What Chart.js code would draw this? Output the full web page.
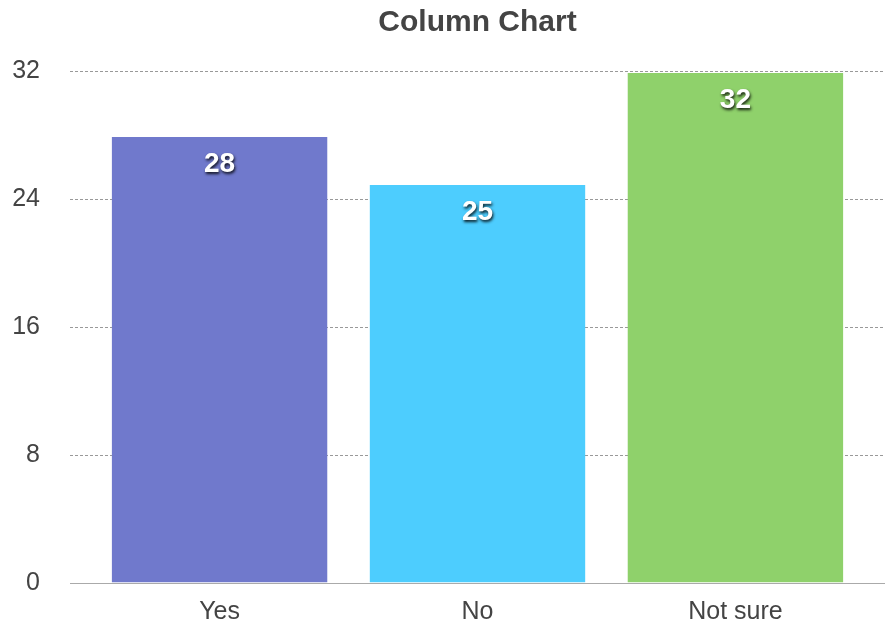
<!DOCTYPE html>
<html>
<head>
<meta charset="utf-8">
<script src="https://cdn.jsdelivr.net/npm/chart.js@4/dist/chart.umd.min.js"></script>
<style>
html,body{margin:0;padding:0;background:#fff;}
#wrap{width:885px;height:626px;position:relative;}
</style>
</head>
<body>
<div id="wrap"><canvas id="c" width="885" height="626"></canvas></div>
<script>
const categories = ["Yes", "No", "Not sure"];
const values = [28, 25, 32];
const barColors = ["#7079CC", "#4DCDFE", "#8FD16B"];
const yTicks = [0, 8, 16, 24, 32];
const chartTitle = "Column Chart";

const FONT = "'Liberation Sans', Arial, Helvetica, sans-serif";

const valueLabels = {
  id: 'valueLabels',
  afterDatasetsDraw(chart) {
    const ctx = chart.ctx;
    const meta = chart.getDatasetMeta(0);
    ctx.save();
    ctx.font = "bold 28px " + FONT;
    ctx.fillStyle = "#fff";
    ctx.textAlign = "center";
    ctx.textBaseline = "middle";
    ctx.shadowColor = "rgba(0,0,0,0.85)";
    ctx.shadowOffsetX = 1;
    ctx.shadowOffsetY = 2;
    ctx.shadowBlur = 3;
    meta.data.forEach((el, i) => {
      ctx.fillText(String(values[i]), el.x, el.y + 29);
    });
    ctx.restore();
  }
};

new Chart(document.getElementById('c'), {
  type: 'bar',
  data: {
    datasets: [{
      data: values.map((v, i) => ({x: i, y: v})),
      backgroundColor: barColors,
      borderColor: 'rgba(0,0,0,0)',
      borderWidth: {top: 2, left: 0, right: 0, bottom: 0},
      borderSkipped: 'bottom',
      barPercentage: 0.837,
      categoryPercentage: 1
    }]
  },
  options: {
    responsive: false,
    animation: false,
    layout: {padding: 0},
    plugins: {
      legend: {display: false},
      tooltip: {enabled: false},
      title: {
        display: true,
        text: chartTitle,
        fullSize: false,
        color: "#444",
        font: {family: FONT, size: 30, weight: 'bold'},
        padding: {top: 5, bottom: 30}
      }
    },
    scales: {
      x: {
        type: 'linear',
        min: -0.58,
        max: 2.58,
        offset: false,
        grid: {display: false, drawTicks: false},
        border: {display: true, color: "#aaa", width: 1},
        afterBuildTicks(scale) {
          scale.ticks = categories.map((c, i) => ({value: i}));
        },
        afterFit(scale) { scale.height = 43; },
        ticks: {
          padding: 14,
          color: "#444",
          font: {family: FONT, size: 25},
          maxRotation: 0,
          autoSkip: false,
          callback: (v) => categories[v]
        }
      },
      y: {
        min: 0,
        max: 32,
        afterBuildTicks(scale) {
          scale.ticks = yTicks.map(v => ({value: v}));
        },
        afterFit(scale) {
          scale.width = 70;
          scale.paddingTop = 15;
          scale.paddingBottom = 15;
        },
        grid: {color: "#999", lineWidth: 1, drawTicks: false},
        border: {display: false, dash: [3, 2]},
        ticks: {
          padding: 30,
          color: "#444",
          font: {family: FONT, size: 25}
        }
      }
    }
  },
  plugins: [valueLabels]
});
</script>
</body>
</html>
